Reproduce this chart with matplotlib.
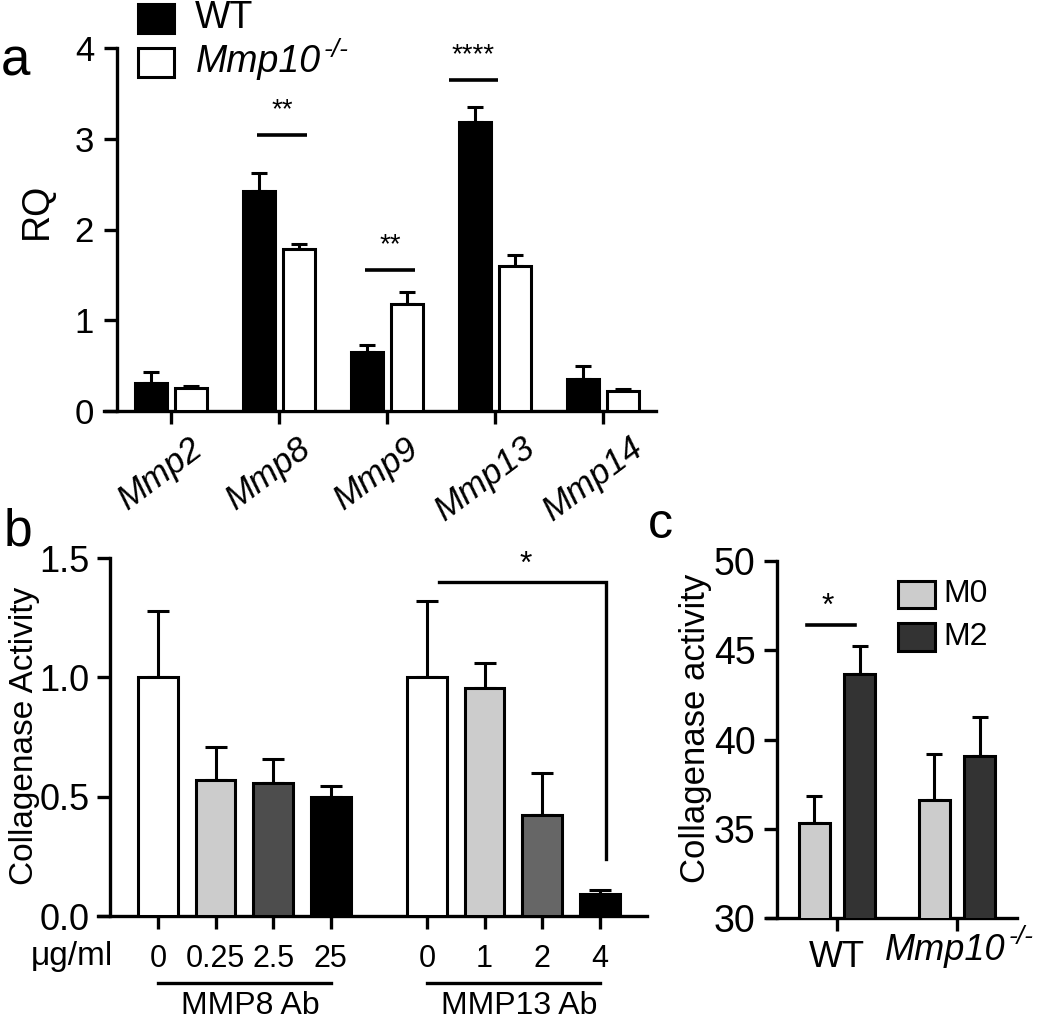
import numpy as np
import matplotlib
matplotlib.use("Agg")
import matplotlib.pyplot as plt
import matplotlib.transforms as mtransforms
from matplotlib.patches import Rectangle

plt.rcParams['font.family'] = ['Liberation Sans', 'DejaVu Sans']

# panel a: qPCR
genes = ['Mmp2', 'Mmp8', 'Mmp9', 'Mmp13', 'Mmp14']
wt_rq = [0.31, 2.42, 0.65, 3.19, 0.35]
wt_err = [0.12, 0.20, 0.08, 0.16, 0.15]
ko_rq = [0.25, 1.78, 1.18, 1.60, 0.22]
ko_err = [0.02, 0.06, 0.13, 0.12, 0.02]
sig_a = [(1, '**', 3.04), (2, '**', 1.55), (3, '****', 3.65)]

# panel b: collagenase activity with antibodies
doses = ['0', '0.25', '2.5', '25', '0', '1', '2', '4']
activity_b = [1.0, 0.57, 0.557, 0.50, 1.0, 0.955, 0.423, 0.092]
err_b = [0.28, 0.14, 0.10, 0.045, 0.32, 0.105, 0.177, 0.018]
colors_b = ['white', '#cccccc', '#4d4d4d', 'black', 'white', '#cccccc', '#666666', 'black']
groups_b = ['MMP8 Ab', 'MMP13 Ab']

# panel c: macrophages
genotypes = ['WT', 'Mmp10']
m0 = [35.32, 36.6]
m0_err = [1.51, 2.59]
m2 = [43.67, 39.07]
m2_err = [1.57, 2.19]

W, H = 1050, 1019
fig = plt.figure(figsize=(W / 100, H / 100), dpi=100)


def px_axes(l, r, top, bot):
    return fig.add_axes([l / W, 1 - bot / H, (r - l) / W, (bot - top) / H])


def style(ax, left_frac, ypad, ysize):
    for s in ['top', 'right']:
        ax.spines[s].set_visible(False)
    for s in ['left', 'bottom']:
        ax.spines[s].set_linewidth(2.4)
    ax.spines['left'].set_position(('axes', left_frac))
    ax.tick_params(axis='both', direction='out', length=9.5, width=2.4)
    ax.tick_params(axis='y', pad=ypad, labelsize=ysize)


def superscript(t, size, dy):
    # put "-/-" just after an italic Mmp10 text
    fig.canvas.draw()
    bb = t.get_window_extent()
    fig.text((bb.x1 + 3) / W, (bb.y1 + dy) / H, '-/-', style='italic', fontsize=size,
             ha='left', va='top')


lw = 2.2

# ---- a ----
ax = px_axes(104, 656, 48, 411)
x = np.arange(len(genes))
ax.bar(x - 0.185, wt_rq, 0.29, color='black', edgecolor='black', linewidth=lw, zorder=3)
ax.bar(x + 0.185, ko_rq, 0.29, color='white', edgecolor='black', linewidth=lw, zorder=3)
ax.errorbar(x - 0.185, wt_rq, yerr=[np.zeros(5), wt_err], fmt='none', ecolor='black',
            elinewidth=lw, capsize=5.8, capthick=lw, zorder=2)
ax.errorbar(x + 0.185, ko_rq, yerr=[np.zeros(5), ko_err], fmt='none', ecolor='black',
            elinewidth=lw, capsize=5.8, capthick=lw, zorder=2)
for i, s, yl in sig_a:
    c = i - 0.2 if s == '****' else i + 0.03
    ax.plot([c - 0.23, c + 0.23], [yl, yl], color='black', lw=2.6, solid_capstyle='butt')
    ax.text(c, yl + 0.13, s, ha='center', va='bottom', fontsize=20)
ax.set_xlim(-0.62, 4.49)
ax.set_ylim(0, 4)
ax.set_yticks([0, 1, 2, 3, 4])
ax.set_xticks(x)
ax.set_xticklabels(genes, rotation=37, style='italic', fontsize=25, ha='center')
style(ax, 13 / 552, 7, 25)
ax.tick_params(axis='x', pad=5)
off = mtransforms.ScaledTranslation(-0.10, 0, fig.dpi_scale_trans)
for lab in ax.get_xticklabels():
    lab.set_transform(lab.get_transform() + off)
fig.text(37 / W, 1 - 211 / H, 'RQ', rotation=90, ha='center', va='center', fontsize=27)

# legend a
fig.add_artist(Rectangle((138 / W, 1 - 33 / H), 36 / W, 29 / H, transform=fig.transFigure,
                         facecolor='black', edgecolor='black', lw=lw))
fig.add_artist(Rectangle((138 / W, 1 - 77 / H), 36 / W, 29 / H, transform=fig.transFigure,
                         facecolor='white', edgecolor='black', lw=lw))
fig.text(195 / W, 1 - 18 / H, 'WT', ha='left', va='center', fontsize=27)
t = fig.text(196 / W, 1 - 62 / H, 'Mmp10', style='italic', ha='left', va='center', fontsize=27)
superscript(t, 19, 6)

# ---- b ----
ax = px_axes(98, 647, 558, 916)
xb = np.array([0, 1, 2, 3, 4.67, 5.67, 6.67, 7.67])
ax.bar(xb, activity_b, 0.69, color=colors_b, edgecolor='black', linewidth=lw, zorder=3)
ax.errorbar(xb, activity_b, yerr=[np.zeros(8), err_b], fmt='none', ecolor='black',
            elinewidth=lw, capsize=8, capthick=lw, zorder=2)
ax.plot([4.88, 7.77, 7.77], [1.40, 1.40, 0.24], color='black', lw=2.4, solid_joinstyle='miter')
ax.text(6.39, 1.41, '*', ha='center', va='bottom', fontsize=23)
ax.set_xlim(-1.04, 8.49)
ax.set_ylim(0, 1.5)
ax.set_yticks([0, 0.5, 1.0, 1.5])
ax.set_yticklabels(['0.0', '0.5', '1.0', '1.5'])
ax.set_xticks(xb)
ax.set_xticklabels(doses, fontsize=22)
style(ax, 12 / 549, 5, 26)
ax.tick_params(axis='x', pad=11)
fig.text(113 / W, 1 - 957 / H, 'μg/ml', ha='right', va='center', fontsize=24)
blend = mtransforms.blended_transform_factory(ax.transData, fig.transFigure)
for (a0, a1), g in zip([(0, 3), (4.67, 7.67)], groups_b):
    ax.plot([a0, a1], [1 - 983 / H] * 2, color='black', lw=2.4, transform=blend, clip_on=False)
    ax.text((a0 + a1) / 2 + 0.1, 1 - 1006 / H, g, ha='center', va='center', fontsize=23,
            transform=blend)
fig.text(25 / W, 1 - 736 / H, 'Collagenase Activity', rotation=90, ha='center', va='center',
         fontsize=24)

# ---- c ----
ax = px_axes(767, 1017, 561, 918)
xc = np.arange(2)
ax.bar(xc - 0.19, m0, 0.26, color='#cccccc', edgecolor='black', linewidth=lw, zorder=3)
ax.bar(xc + 0.19, m2, 0.26, color='#333333', edgecolor='black', linewidth=lw, zorder=3)
ax.errorbar(xc - 0.19, m0, yerr=[np.zeros(2), m0_err], fmt='none', ecolor='black',
            elinewidth=lw, capsize=6, capthick=lw, zorder=2)
ax.errorbar(xc + 0.19, m2, yerr=[np.zeros(2), m2_err], fmt='none', ecolor='black',
            elinewidth=lw, capsize=6, capthick=lw, zorder=2)
ax.plot([-0.25, 0.15], [46.41, 46.41], color='black', lw=2.6)
ax.text(-0.075, 46.6, '*', ha='center', va='bottom', fontsize=23)
ax.set_xlim(-0.583, 1.5)
ax.set_ylim(30, 50)
ax.set_yticks([30, 35, 40, 45, 50])
ax.set_xticks(xc)
ax.set_xticklabels([genotypes[0], ''], fontsize=26)
style(ax, 10 / 250, 6, 27)
ax.tick_params(axis='x', pad=6)
blend_c = mtransforms.blended_transform_factory(ax.transData, fig.transFigure)
t = ax.text(0.9, 1 - 950 / H, genotypes[1], style='italic', ha='center', va='center',
            fontsize=26, transform=blend_c)
superscript(t, 19, 8)
fig.text(695 / W, 1 - 728 / H, 'Collagenase activity', rotation=90, ha='center', va='center',
         fontsize=25)

# legend c
for yt, yb, col, lab in [(581, 608, '#cccccc', 'M0'), (623, 651, '#333333', 'M2')]:
    fig.add_artist(Rectangle((898 / W, 1 - yb / H), 37 / W, (yb - yt) / H, transform=fig.transFigure,
                             facecolor=col, edgecolor='black', lw=lw))
    fig.text(943 / W, 1 - (yt + yb) / 2 / H, lab, ha='left', va='center', fontsize=23)

# panel letters
fig.text(1 / W, 1 - 76 / H, 'a', ha='left', va='baseline', fontsize=38)
fig.text(4 / W, 1 - 545 / H, 'b', ha='left', va='baseline', fontsize=37)
fig.text(648 / W, 1 - 538 / H, 'c', ha='left', va='baseline', fontsize=36)

fig.savefig('out.png', dpi=100)
